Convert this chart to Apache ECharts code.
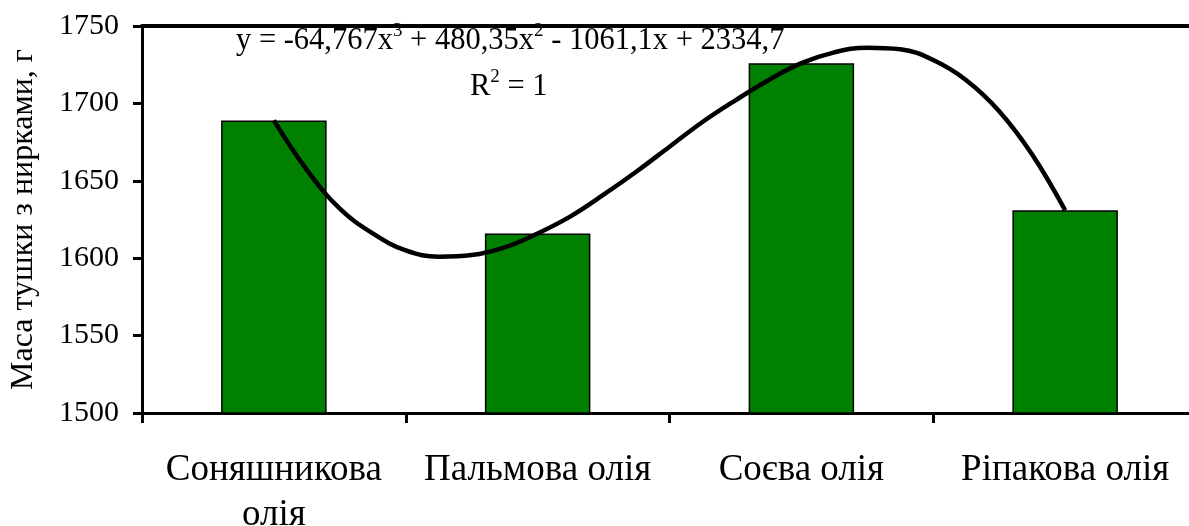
<!DOCTYPE html>
<html>
<head>
<meta charset="utf-8">
<script src="https://cdn.jsdelivr.net/npm/echarts@6/dist/echarts.min.js"></script>
<style>
html,body{margin:0;padding:0;background:#fff;overflow:hidden;}
#chart{width:1189px;height:526px;}
</style>
</head>
<body>
<div id="chart"></div>
<script>
// Categories and bar values (Маса тушки з нирками, г)
const categories = ['Соняшникова\nолія', 'Пальмова олія', 'Соєва олія', 'Ріпакова олія'];
const barValues = [1689, 1616, 1726, 1631];

// Trendline points (x = category position 1..4)
const trendX = [1, 1.125, 1.25, 1.375, 1.5, 1.625, 1.75, 1.875, 2, 2.125, 2.25, 2.375, 2.5, 2.625, 2.75, 2.875, 3, 3.125, 3.25, 3.375, 3.5, 3.625, 3.75, 3.875, 4];
const trendY = [1689, 1657, 1632, 1616, 1605, 1601, 1602, 1607, 1616, 1627, 1641, 1656, 1672, 1688, 1702, 1715, 1726, 1733, 1736, 1735, 1728, 1715, 1695, 1667, 1631];

// Y axis range / ticks
const yMin = 1500, yMax = 1750, yStep = 50;

const yAxisTitle = 'Маса тушки з нирками, г';
const eqParts = ['y = -64,767x', '3', ' + 480,35x', '2', ' - 1061,1x + 2334,7'];
const r2Parts = ['R', '2', ' = 1'];

const FONT = '"Liberation Serif", "Times New Roman", serif';

const chart = echarts.init(document.getElementById('chart'), null, {renderer: 'canvas'});

const trendData = trendX.map((x, i) => [x, trendY[i]]);

const option = {
  backgroundColor: '#ffffff',
  animation: false,
  grid: {left: 142, top: 26, width: 1055, height: 387, containLabel: false, outerBoundsMode: 'none'},
  xAxis: [
    {
      type: 'category',
      data: categories,
      boundaryGap: true,
      position: 'bottom',
      axisLine: {show: true, lineStyle: {color: '#000', width: 3}},
      axisTick: {show: true, alignWithLabel: false, length: 10, lineStyle: {color: '#000', width: 3}},
      axisLabel: {color: '#000', fontFamily: FONT, fontSize: 37, lineHeight: 45, margin: 35, interval: 0},
      splitLine: {show: false}
    },
    {
      type: 'value',
      min: 0.5, max: 4.5,
      position: 'top',
      axisLine: {show: true, onZero: false, lineStyle: {color: '#000', width: 4}},
      axisTick: {show: false},
      axisLabel: {show: false},
      splitLine: {show: false}
    }
  ],
  yAxis: {
    type: 'value',
    min: yMin, max: yMax, interval: yStep,
    name: yAxisTitle,
    nameLocation: 'middle',
    nameRotate: 90,
    nameGap: 102,
    nameTextStyle: {color: '#000', fontFamily: FONT, fontSize: 32},
    axisLine: {show: true, lineStyle: {color: '#000', width: 3}},
    axisTick: {show: true, length: 9, lineStyle: {color: '#000', width: 3}},
    axisLabel: {color: '#000', fontFamily: FONT, fontSize: 30, margin: 23, formatter: v => String(v)},
    splitLine: {show: false}
  },
  series: [
    {
      type: 'bar',
      data: barValues,
      barWidth: '40%',
      xAxisIndex: 0,
      itemStyle: {color: '#008000', borderColor: '#000', borderWidth: 1.5},
      z: 2
    },
    {
      type: 'line',
      data: trendData,
      xAxisIndex: 1,
      smooth: 0.4,
      showSymbol: false,
      symbol: 'none',
      lineStyle: {color: '#000', width: 4.5},
      z: 3
    }
  ],
  graphic: [
    {
      type: 'text',
      left: 236,
      top: 22,
      z: 1,
      style: {
        text: '{a|' + eqParts[0] + '}{s|' + eqParts[1] + '}{a|' + eqParts[2] + '}{s|' + eqParts[3] + '}{a|' + eqParts[4] + '}',
        rich: {
          a: {fontFamily: FONT, fontSize: 30.5, lineHeight: 34, fill: '#000', verticalAlign: 'bottom'},
          s: {fontFamily: FONT, fontSize: 19, lineHeight: 22, fill: '#000', verticalAlign: 'top'}
        }
      }
    },
    {
      type: 'text',
      left: 470,
      top: 68,
      z: 1,
      style: {
        text: '{a|' + r2Parts[0] + '}{s|' + r2Parts[1] + '}{a|' + r2Parts[2] + '}',
        rich: {
          a: {fontFamily: FONT, fontSize: 30.5, lineHeight: 34, fill: '#000', verticalAlign: 'bottom'},
          s: {fontFamily: FONT, fontSize: 19, lineHeight: 22, fill: '#000', verticalAlign: 'top'}
        }
      }
    }
  ]
};

chart.setOption(option);
</script>
</body>
</html>
